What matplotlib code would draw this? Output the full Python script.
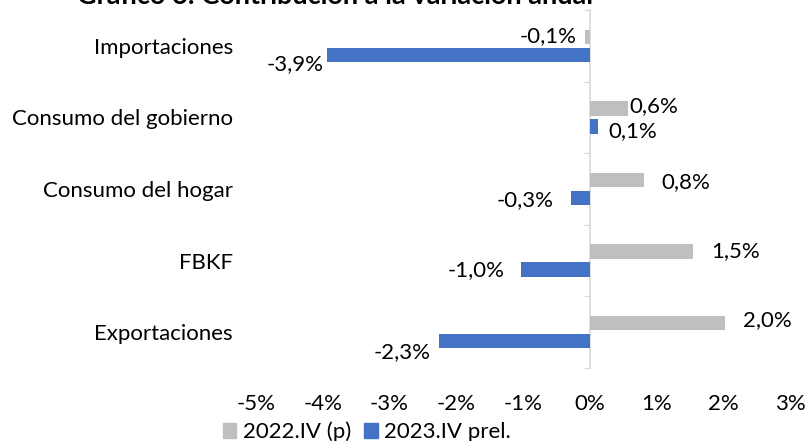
import numpy as np
import matplotlib
matplotlib.use("Agg")
import matplotlib.pyplot as plt
from matplotlib.patches import Patch

# data (contribution to annual change, %)
CATEGORIES = ["Importaciones", "Consumo del gobierno", "Consumo del hogar", "FBKF", "Exportaciones"]
SERIES_NAMES = ["2022.IV (p)", "2023.IV prel."]
VALUES_2022 = [-0.07, 0.57, 0.81, 1.54, 2.02]
VALUES_2023 = [-3.94, 0.13, -0.28, -1.03, -2.26]
X_TICKS = [-5, -4, -3, -2, -1, 0, 1, 2, 3]
TITLE = "Gráfico 6: Contribución a la variación anual"

GRAY = "#BFBFBF"
BLUE = "#4472C4"
AXIS_GRAY = "#D9D9D9"
FONT = "Lato"
FS = 16

# label nudges in pixels (dx from bar end, dy downward), as placed in the original
NUDGE_2022 = [(-8, -1), (2, -2), (18, 2), (19, -1), (18, -3)]
NUDGE_2023 = [(-3, 9), (10, 5), (-17, 2), (-16, 1), (-8, 11)]

W, H = 807, 441
fig = plt.figure(figsize=(W / 100, H / 100), dpi=100)
plt.rcParams["font.family"] = [FONT, "DejaVu Sans"]

ax = fig.add_axes([256 / W, 1 - 368 / H, (790 - 256) / W, (368 - 10) / H])
y = np.arange(len(CATEGORIES))
bh = 0.2
off = 0.125
ax.barh(y - off, VALUES_2022, height=bh, color=GRAY)
ax.barh(y + off, VALUES_2023, height=bh, color=BLUE)

ax.set_xlim(X_TICKS[0], X_TICKS[-1])
ax.set_ylim(len(CATEGORIES) - 0.5, -0.5)
for s in ax.spines.values():
    s.set_visible(False)

ax.set_yticks(y)
ax.set_yticklabels(CATEGORIES, fontsize=FS)
ax.set_xticks(X_TICKS)
ax.set_xticklabels([f"{t}%" for t in X_TICKS], fontsize=FS)
ax.tick_params(axis="y", length=0, pad=16.5)
ax.tick_params(axis="x", length=0, pad=19)

# zero line with category separators
sec = ax.secondary_yaxis(0, transform=ax.transData)
sec.set_yticks(np.arange(len(CATEGORIES) + 1) - 0.5)
sec.tick_params(axis="y", length=4, color=AXIS_GRAY, labelleft=False, labelright=False)
sec.spines["left"].set_color(AXIS_GRAY)
sec.spines["left"].set_linewidth(1.2)


def fmt(v):
    return f"{v:.1f}%".replace(".", ",")


for vals, shift, nudges in [(VALUES_2022, -off, NUDGE_2022), (VALUES_2023, off, NUDGE_2023)]:
    for i, (v, (dx, dy)) in enumerate(zip(vals, nudges)):
        ax.annotate(fmt(v), xy=(v, i + shift), xytext=(dx, -dy),
                    textcoords="offset pixels", ha="left" if v >= 0 else "right",
                    va="center", fontsize=FS)

# title sits mostly above the canvas, as in the original crop
fig.text(335 / W, 1 - 4 / H, TITLE, ha="center", va="baseline",
         fontsize=19.5, fontweight="bold")

handles = [Patch(color=GRAY), Patch(color=BLUE)]
fig.legend(handles, SERIES_NAMES, loc="center", bbox_to_anchor=(367 / W, 1 - 432 / H),
           ncol=2, frameon=False, fontsize=FS, handlelength=0.6, handleheight=0.6,
           handletextpad=0.3, columnspacing=0.6, borderpad=0)

fig.savefig("out.png", dpi=100)
